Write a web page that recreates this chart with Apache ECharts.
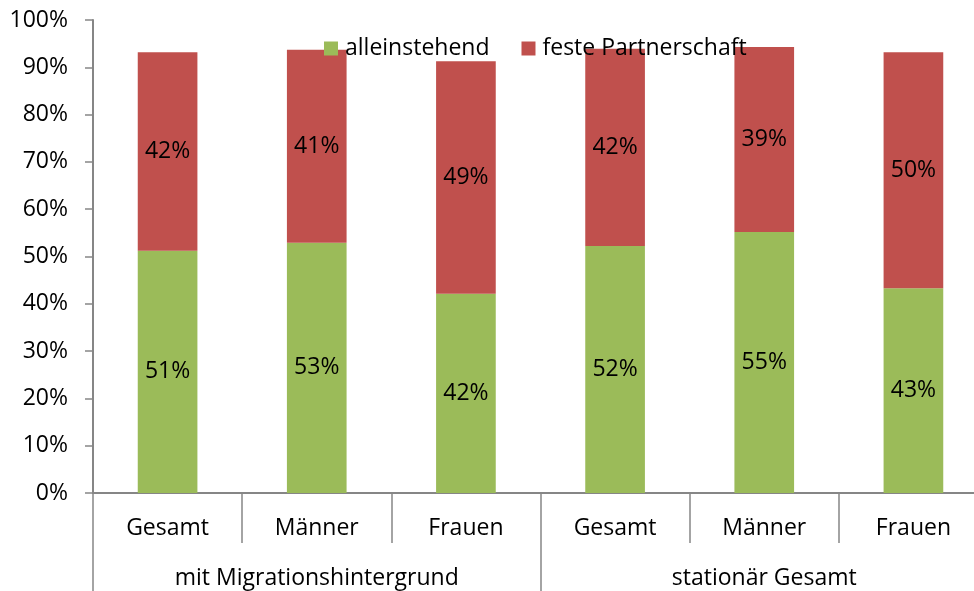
<!DOCTYPE html>
<html>
<head>
<meta charset="utf-8">
<script src="https://cdn.jsdelivr.net/npm/echarts@6/dist/echarts.min.js"></script>
<style>
  html, body { margin: 0; padding: 0; background: #fff; }
  #chart { width: 974px; height: 591px; }
</style>
</head>
<body>
<div id="chart"></div>
<script>
// Kategorien (untere Ebene) und Gruppen (obere Ebene)
var categories = ["Gesamt", "Männer", "Frauen", "Gesamt", "Männer", "Frauen"];
var groups = ["mit Migrationshintergrund", "stationär Gesamt"];
// Anteile in Prozent
var alleinstehend = [51.2, 52.9, 42.1, 52.2, 55.2, 43.3];
var partnerschaft = [42.0, 40.8, 49.2, 41.7, 39.1, 49.9];
var yTicks = [0, 10, 20, 30, 40, 50, 60, 70, 80, 90, 100];

var font = "Open Sans";
var fs = 23;
var axisGray = "#868686";

var chart = echarts.init(document.getElementById("chart"));

function pctLabel(p) {
  return Math.round(p.value) + "%";
}

var option = {
  animation: false,
  textStyle: { fontFamily: font },
  legend: {
    left: 319,
    top: 32,
    itemWidth: 14,
    itemHeight: 14,
    itemGap: 32,
    icon: "rect",
    textStyle: { fontFamily: font, fontSize: fs, color: "#000", padding: [0, 0, 0, 2] },
    data: ["alleinstehend", "feste Partnerschaft"]
  },
  grid: {
    left: 93,
    top: 20,
    width: 895,
    height: 473,
    outerBoundsMode: "none"
  },
  xAxis: [
    {
      type: "category",
      data: categories,
      position: "bottom",
      axisLine: { show: true, lineStyle: { color: axisGray, width: 2 } },
      axisTick: { show: true, interval: 0, length: 50, lineStyle: { color: axisGray, width: 1.5 } },
      axisLabel: { interval: 0, margin: 24, fontFamily: font, fontSize: fs, color: "#000" }
    },
    {
      type: "category",
      data: groups,
      position: "bottom",
      axisLine: { show: false },
      axisTick: { show: true, interval: 0, length: 100, lineStyle: { color: axisGray, width: 1.5 } },
      axisLabel: { interval: 0, margin: 74, fontFamily: font, fontSize: fs, color: "#000" }
    }
  ],
  yAxis: {
    type: "value",
    min: yTicks[0],
    max: yTicks[yTicks.length - 1],
    interval: 10,
    splitLine: { show: false },
    axisLine: { show: true, lineStyle: { color: axisGray, width: 2 } },
    axisTick: { show: true, length: 8, lineStyle: { color: axisGray, width: 1.5 } },
    axisLabel: {
      margin: 25,
      fontFamily: font,
      fontSize: fs,
      color: "#000",
      formatter: "{value}%"
    }
  },
  series: [
    {
      name: "alleinstehend",
      type: "bar",
      stack: "gesamt",
      xAxisIndex: 0,
      barCategoryGap: "60%",
      itemStyle: { color: "#9BBB59" },
      label: {
        show: true,
        position: "inside",
        fontFamily: font,
        fontSize: fs,
        color: "#000",
        formatter: pctLabel
      },
      data: alleinstehend
    },
    {
      name: "feste Partnerschaft",
      type: "bar",
      stack: "gesamt",
      xAxisIndex: 0,
      barCategoryGap: "60%",
      itemStyle: { color: "#C0504D" },
      label: {
        show: true,
        position: "inside",
        fontFamily: font,
        fontSize: fs,
        color: "#000",
        formatter: pctLabel
      },
      data: partnerschaft
    }
  ]
};

chart.setOption(option);
</script>
</body>
</html>
